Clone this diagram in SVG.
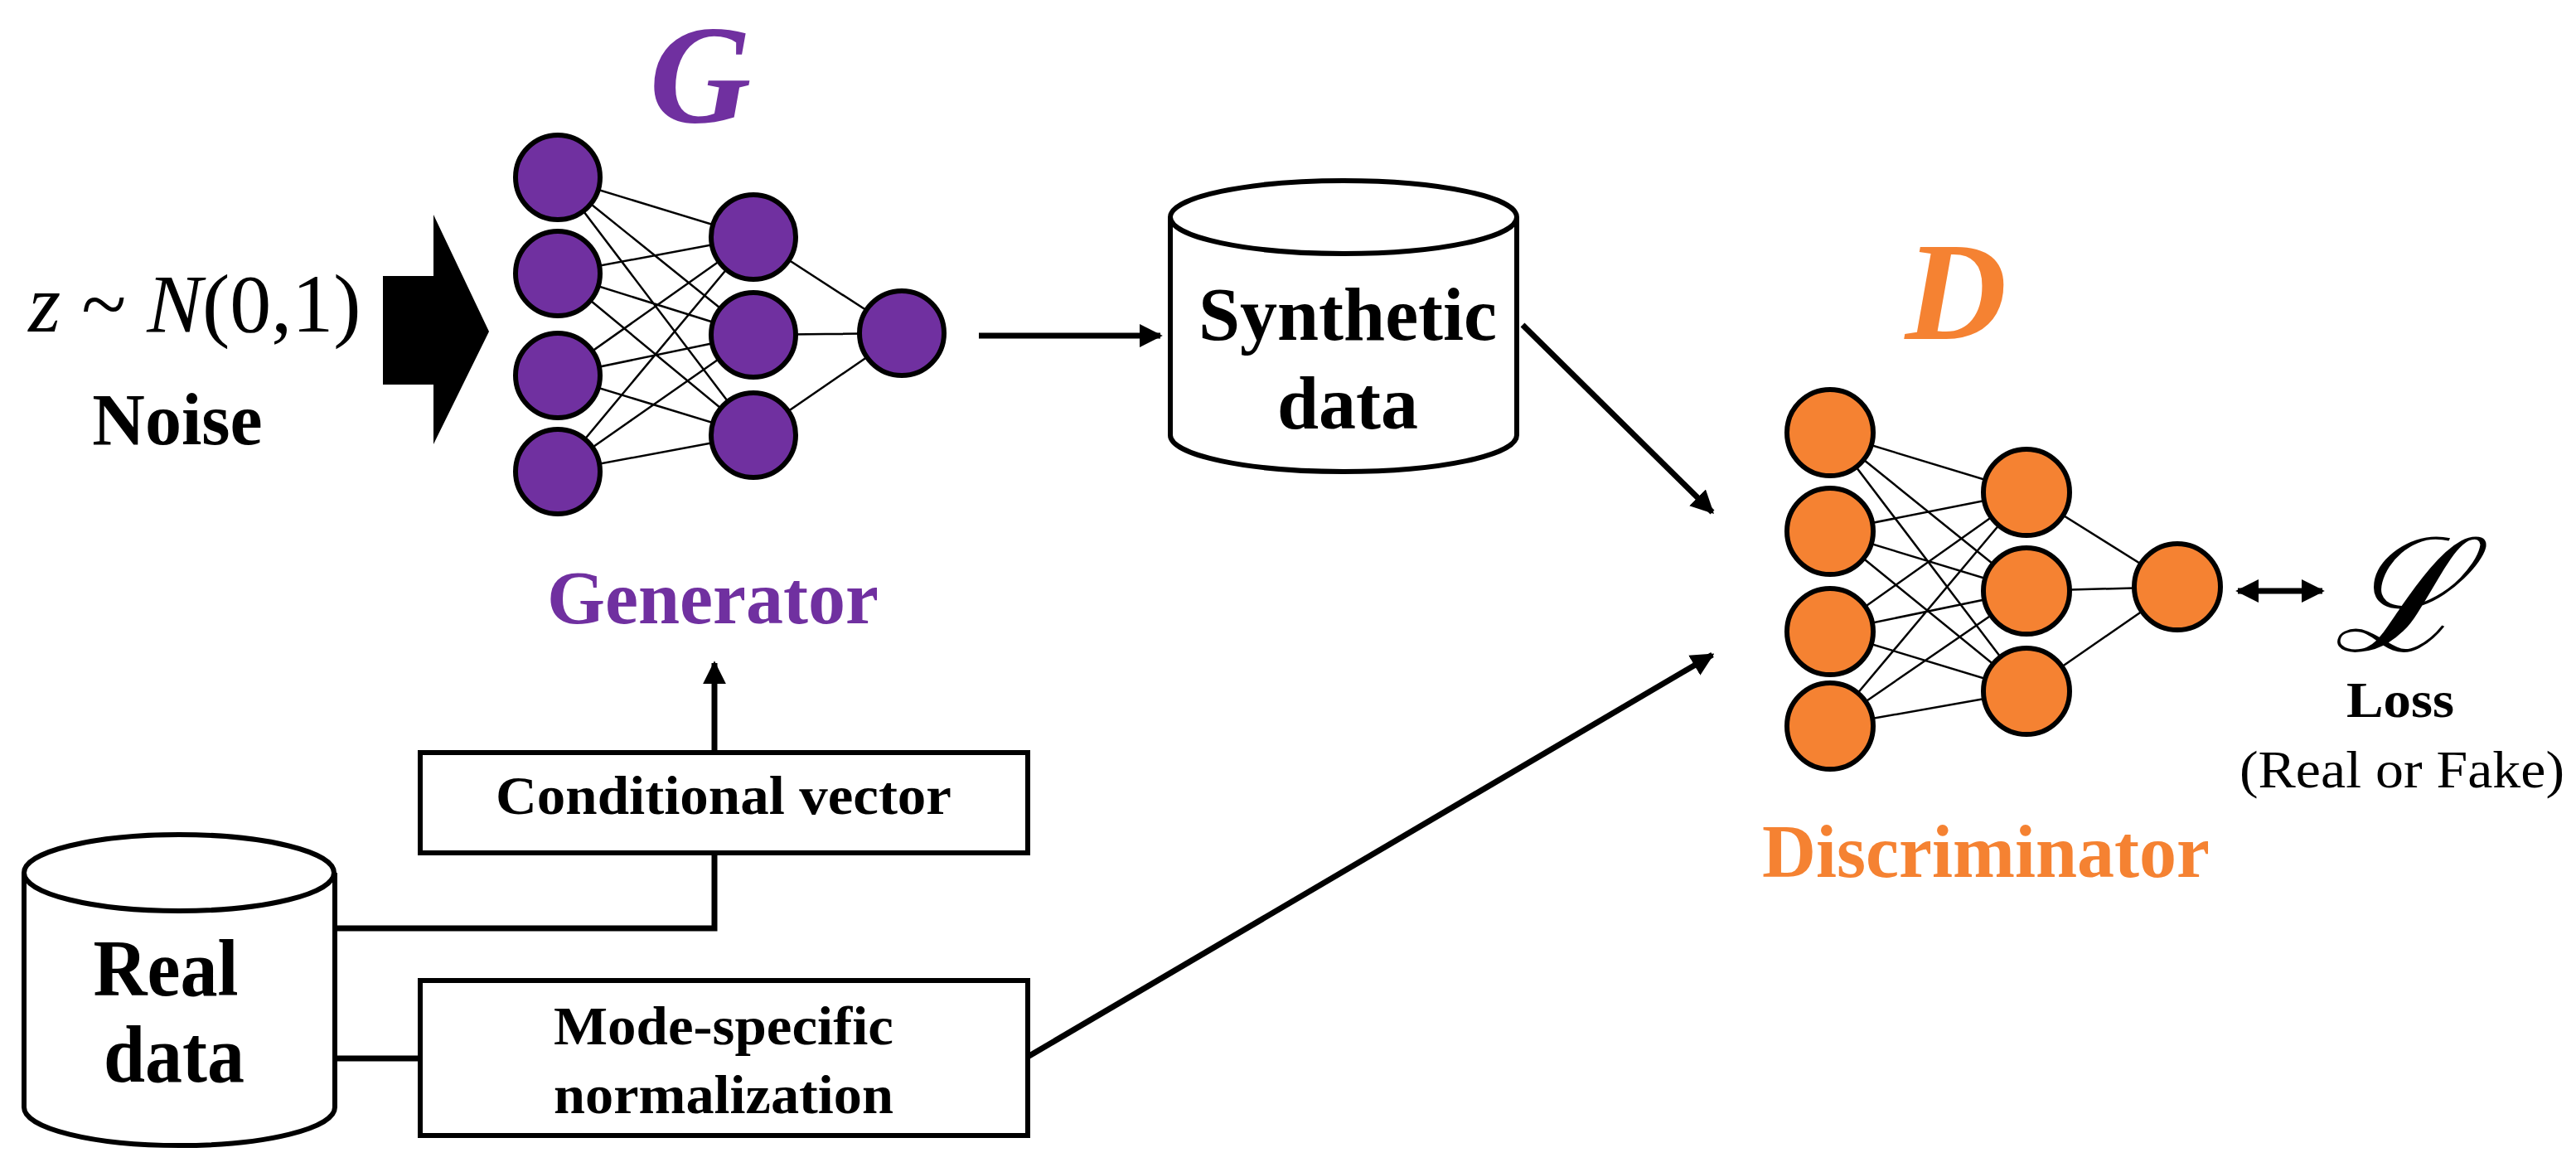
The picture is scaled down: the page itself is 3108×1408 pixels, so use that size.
<svg xmlns="http://www.w3.org/2000/svg" width="3108" height="1408" viewBox="0 0 3108 1408">
<style>
.g{fill:#7030A0;stroke:#000;stroke-width:6}
.d{fill:#F58232;stroke:#000;stroke-width:6}
.w{stroke:#000;stroke-width:2.5;fill:none}
.c{stroke:#000;stroke-width:7;fill:none}
.box{fill:#fff;stroke:#000;stroke-width:6}
.t{font-family:"Liberation Serif",serif;font-weight:bold;text-anchor:middle;fill:#000}
</style>
<defs>
<marker id="ah" viewBox="0 0 10 10" refX="9" refY="5" markerWidth="4" markerHeight="4" orient="auto-start-reverse"><path d="M0,0L10,5L0,10z" fill="#000"/></marker>
</defs>
<rect width="3108" height="1408" fill="#fff"/>

<g id="noise">
<text x="235" y="400" font-family="Liberation Serif,serif" font-size="100" text-anchor="middle"><tspan font-style="italic">z</tspan> ~ <tspan font-style="italic">N</tspan>(0,1)</text>
<text class="t" x="214" y="536" font-size="88">Noise</text>
<path d="M462,333H523V259L590,400L523,536V464H462z" fill="#000"/>
</g>

<g id="generator">
<text x="845" y="147" font-family="Liberation Serif,serif" font-size="170" font-style="italic" font-weight="bold" fill="#7030A0" text-anchor="middle">G</text>
<g class="w">
<path d="M673,214L909,286M673,214L909,404M673,214L909,525M673,330L909,286M673,330L909,404M673,330L909,525M673,453L909,286M673,453L909,404M673,453L909,525M673,569L909,286M673,569L909,404M673,569L909,525M909,286L1088,402M909,404L1088,402M909,525L1088,402"/>
</g>
<circle class="g" cx="673" cy="214" r="51"/>
<circle class="g" cx="673" cy="330" r="51"/>
<circle class="g" cx="673" cy="453" r="51"/>
<circle class="g" cx="673" cy="569" r="51"/>
<circle class="g" cx="909" cy="286" r="51"/>
<circle class="g" cx="909" cy="404" r="51"/>
<circle class="g" cx="909" cy="525" r="51"/>
<circle class="g" cx="1088" cy="402" r="51"/>
<text x="860" y="752" class="t" font-size="92" style="fill:#7030A0" textLength="400" lengthAdjust="spacingAndGlyphs">Generator</text>
</g>

<g id="synthetic">
<path class="box" d="M1412,262V525A209,44 0 0 0 1830,525V262"/>
<ellipse class="box" cx="1621" cy="262" rx="209" ry="44"/>
<text class="t" x="1626" y="410" font-size="90" textLength="360" lengthAdjust="spacingAndGlyphs">Synthetic</text>
<text class="t" x="1626" y="517" font-size="90" textLength="170" lengthAdjust="spacingAndGlyphs">data</text>
</g>

<g id="discriminator">
<text x="2360" y="409" font-family="Liberation Serif,serif" font-size="170" font-style="italic" font-weight="bold" fill="#F58232" text-anchor="middle">D</text>
<g class="w">
<path d="M2208,522L2445,594M2208,522L2445,713M2208,522L2445,834M2208,641L2445,594M2208,641L2445,713M2208,641L2445,834M2208,762L2445,594M2208,762L2445,713M2208,762L2445,834M2208,876L2445,594M2208,876L2445,713M2208,876L2445,834M2445,594L2627,708M2445,713L2627,708M2445,834L2627,708"/>
</g>
<circle class="d" cx="2208" cy="522" r="52"/>
<circle class="d" cx="2208" cy="641" r="52"/>
<circle class="d" cx="2208" cy="762" r="52"/>
<circle class="d" cx="2208" cy="876" r="52"/>
<circle class="d" cx="2445" cy="594" r="52"/>
<circle class="d" cx="2445" cy="713" r="52"/>
<circle class="d" cx="2445" cy="834" r="52"/>
<circle class="d" cx="2627" cy="708" r="52"/>
<text class="t" x="2396" y="1058" font-size="92" style="fill:#F58232" textLength="540" lengthAdjust="spacingAndGlyphs">Discriminator</text>
</g>

<g id="loss">
<text x="2894" y="785" font-family="DejaVu Serif,serif" font-size="190" font-style="italic" text-anchor="middle">ℒ</text>
<text class="t" x="2896" y="865" font-size="62" textLength="130" lengthAdjust="spacingAndGlyphs">Loss</text>
<text x="2898" y="950" font-family="Liberation Serif,serif" font-size="64" text-anchor="middle" textLength="392" lengthAdjust="spacingAndGlyphs">(Real or Fake)</text>
</g>

<g id="real">
<path class="box" d="M29,1053V1336A187,46 0 0 0 404,1336V1053"/>
<ellipse class="box" cx="216" cy="1053" rx="187" ry="46"/>
<text class="t" x="200" y="1201" font-size="98" textLength="175" lengthAdjust="spacingAndGlyphs">Real</text>
<text class="t" x="210" y="1305" font-size="98" textLength="170" lengthAdjust="spacingAndGlyphs">data</text>
</g>

<g id="conditional">
<rect class="box" x="507" y="908" width="733" height="121"/>
<text class="t" x="873" y="982" font-size="66" textLength="550" lengthAdjust="spacingAndGlyphs">Conditional vector</text>
</g>

<g id="mode">
<rect class="box" x="507" y="1183" width="733" height="187"/>
<text class="t" x="873" y="1260" font-size="66" textLength="410" lengthAdjust="spacingAndGlyphs">Mode-specific</text>
<text class="t" x="873" y="1343" font-size="66" textLength="410" lengthAdjust="spacingAndGlyphs">normalization</text>
</g>

<g id="connectors">
<path class="c" d="M1181,405H1400" marker-end="url(#ah)"/>
<path class="c" d="M1837,392L2066,618" marker-end="url(#ah)"/>
<path class="c" d="M1240,1275L2066,790" marker-end="url(#ah)"/>
<path class="c" d="M862,908V800" marker-end="url(#ah)"/>
<path class="c" d="M404,1120H862V1029"/>
<path class="c" d="M404,1277H507"/>
<path class="c" d="M2700,713H2802" marker-start="url(#ah)" marker-end="url(#ah)"/>
</g>
</svg>
